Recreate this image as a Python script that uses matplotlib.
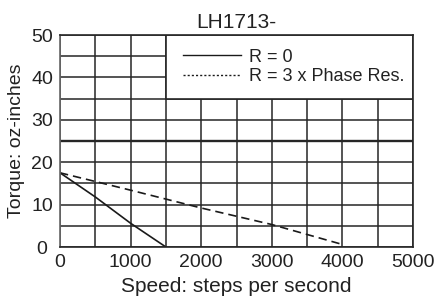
import numpy as np
import matplotlib
matplotlib.use('Agg')
import matplotlib.pyplot as plt
from matplotlib.patches import Rectangle
from matplotlib.lines import Line2D

plt.rcParams['font.family'] = ['Liberation Sans', 'DejaVu Sans']

title = 'LH1713-'
speed_r0 = [0, 500, 1000, 1500]
torque_r0 = [17.5, 11.8, 5.6, 0]
speed_r3 = [0, 1000, 2000, 3000, 4000]
torque_r3 = [17.5, 13.4, 9.2, 5.3, 0.6]
labels = ['R = 0', 'R = 3 x Phase Res.']
xticks = [0, 1000, 2000, 3000, 4000, 5000]
yticks = [0, 10, 20, 30, 40, 50]

fig = plt.figure(figsize=(4.35, 2.97), dpi=100)
ax = fig.add_axes([60/435, 1-247/297, 353/435, 212/297])

gc = '#262626'
ax.set_xlim(0, 5000)
ax.set_ylim(0, 50)
ax.set_xticks(xticks)
ax.set_xticks(np.arange(500, 5000, 1000), minor=True)
ax.set_yticks(yticks)
ax.set_yticks(np.arange(5, 50, 10), minor=True)
ax.set_axisbelow(True)
ax.grid(True, which='both', color=gc, lw=1.1)
ax.axhline(25, color=gc, lw=1.7, zorder=0.6)
ax.tick_params(which='both', length=0)
ax.tick_params(axis='x', labelsize=14, pad=5, colors='#222222')
ax.tick_params(axis='y', labelsize=14, pad=13, colors='#222222')
for lab in ax.get_yticklabels():
    lab.set_horizontalalignment('center')
for s in ax.spines.values():
    s.set_color(gc)
    s.set_linewidth(1.2)
ax.spines['left'].set_color('#666666')

# legend box covering the grid
ax.add_patch(Rectangle((1500, 35), 3500, 15, facecolor='white', edgecolor=gc,
                       lw=1.2, zorder=1.5))

ax.plot(speed_r0, torque_r0, color='#1a1a1a', lw=1.2, zorder=2)
ax.plot(speed_r3, torque_r3, color='#1a1a1a', lw=1.2, dashes=(5, 3), zorder=2)

handles = [Line2D([], [], color='#1a1a1a', lw=1.0),
           Line2D([], [], color='#1a1a1a', lw=1.0, dashes=(1.5, 1.5))]
leg = ax.legend(handles, labels, loc='upper right', bbox_to_anchor=(0.995, 0.97),
                frameon=False, fontsize=13, handlelength=3.25, handletextpad=0.4,
                labelspacing=0.15, borderaxespad=0)
leg.set_zorder(3)
for t in leg.get_texts():
    t.set_color('#222222')

ax.set_title(title, fontsize=15, pad=5, color='#222222')
ax.set_xlabel('Speed: steps per second', fontsize=15, color='#222222')
ax.set_ylabel('Torque: oz-inches', fontsize=14, color='#222222')
ax.xaxis.set_label_coords(0.5, -0.14)
ax.yaxis.set_label_coords(-0.10, 0.50)

fig.savefig('out.png', dpi=100)
